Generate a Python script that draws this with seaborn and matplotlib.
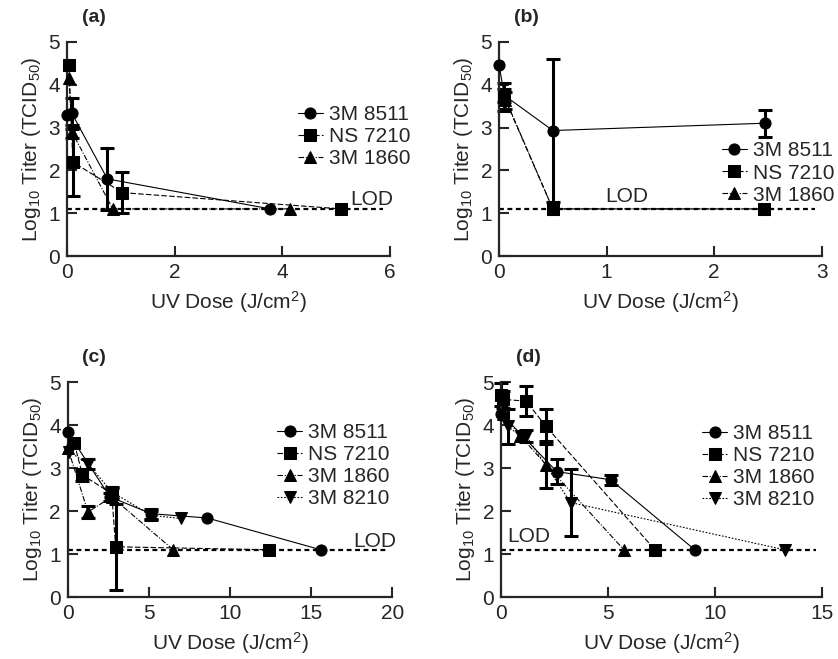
import pandas as pd
import matplotlib
matplotlib.use("Agg")
import matplotlib.pyplot as plt
import seaborn as sns

# ---- data (dose J/cm2, log10 titer, +/- error) ----
a_series = ["3M 8511"] * 4 + ["NS 7210"] * 4 + ["3M 1860"] * 4
a_dose = [0.0, 0.09, 0.75, 3.78, 0.03, 0.11, 1.03, 5.10, 0.04, 0.09, 0.85, 4.15]
a_titer = [3.29, 3.33, 1.80, 1.10, 4.46, 2.19, 1.48, 1.10, 4.15, 2.90, 1.10, 1.10]
a_err = [0, 0.37, 0.73, 0, 0, 0.80, 0.47, 0, 0, 0.15, 0, 0]

b_series = ["3M 8511"] * 4 + ["NS 7210"] * 3 + ["3M 1860"] * 3
b_dose = [0.0, 0.05, 0.50, 2.47, 0.05, 0.50, 2.46, 0.06, 0.50, 2.46]
b_titer = [4.46, 3.75, 2.93, 3.10, 3.72, 1.10, 1.10, 3.64, 1.10, 1.10]
b_err = [0, 0.15, 1.68, 0.32, 0.33, 0, 0, 0.2, 0, 0]

c_series = ["3M 8511"] * 5 + ["NS 7210"] * 5 + ["3M 1860"] * 4 + ["3M 8210"] * 5
c_dose = [0.0, 2.6, 5.15, 8.6, 15.6,
          0.4, 0.9, 2.7, 2.95, 12.4,
          0.0, 1.24, 2.7, 6.5,
          0.1, 1.24, 2.7, 5.15, 6.95]
c_titer = [3.83, 2.33, 1.94, 1.84, 1.10,
           3.58, 2.84, 2.41, 1.17, 1.10,
           3.46, 1.98, 2.33, 1.10,
           3.38, 3.10, 2.45, 1.90, 1.83]
c_err = [0, 0.1, 0.12, 0, 0,
         0, 0.15, 0.12, 1.0, 0,
         0, 0.15, 0, 0,
         0, 0.12, 0.12, 0.1, 0]

d_series = ["3M 8511"] * 4 + ["NS 7210"] * 5 + ["3M 1860"] * 4 + ["3M 8210"] * 5
d_dose = [0.0, 2.6, 5.12, 9.05,
          0.0, 0.1, 1.17, 2.1, 7.19,
          0.1, 0.9, 2.1, 5.74,
          0.3, 0.92, 1.17, 3.25, 13.25]
d_titer = [4.27, 2.92, 2.73, 1.10,
           4.71, 4.60, 4.56, 3.97, 1.10,
           4.25, 3.75, 3.08, 1.10,
           3.97, 3.75, 3.75, 2.20, 1.10]
d_err = [0, 0.3, 0.12, 0,
         0.27, 0.2, 0.35, 0.4, 0,
         0, 0, 0.55, 0,
         0.4, 0, 0.14, 0.78, 0]

lod = 1.1
series_order = ["3M 8511", "NS 7210", "3M 1860", "3M 8210"]
markers = {"3M 8511": "o", "NS 7210": "s", "3M 1860": "^", "3M 8210": "v"}
dashes = {"3M 8511": "", "NS 7210": (5, 2), "3M 1860": (5, 1.5, 1, 1.5), "3M 8210": (1.5, 1.5)}

sns.set_style("ticks")
plt.rcParams["font.family"] = ["Liberation Sans", "DejaVu Sans"]
plt.rcParams["mathtext.fontset"] = "custom"
plt.rcParams["mathtext.rm"] = "Liberation Sans"
plt.rcParams["mathtext.it"] = "Liberation Sans:italic"

fs = 15
fig = plt.figure(figsize=(8.38, 6.59), dpi=100)
rects = [[0.080, 0.6115, 0.385, 0.325], [0.5955, 0.6115, 0.385, 0.325],
         [0.081, 0.094, 0.387, 0.326], [0.598, 0.094, 0.383, 0.326]]

panels = [
    ("(a)", a_series, a_dose, a_titer, a_err, 6, [0, 2, 4, 6], (5.67, 1.33), (0.715, 0.705)),
    ("(b)", b_series, b_dose, b_titer, b_err, 3, [0, 1, 2, 3], (1.19, 1.39), (0.69, 0.535)),
    ("(c)", c_series, c_dose, c_titer, c_err, 20, [0, 5, 10, 15, 20], (18.9, 1.30), (0.645, 0.81)),
    ("(d)", d_series, d_dose, d_titer, d_err, 15, [0, 5, 10, 15], (1.28, 1.40), (0.626, 0.805)),
]

for rect, (tag, ser, dose, titer, err, xmax, xticks, lodpos, legpos) in zip(rects, panels):
    ax = fig.add_axes(rect)
    df = pd.DataFrame({"series": ser, "dose": dose, "titer": titer, "err": err})
    order = [s for s in series_order if s in ser]
    ax.axhline(lod, xmax=0.98, color="k", lw=1.6, ls=(0, (2.2, 1.6)), zorder=1)
    sns.lineplot(data=df, x="dose", y="titer", style="series", style_order=order,
                 markers=markers, dashes=dashes, color="k", sort=False,
                 estimator=None, lw=0.8, markersize=8, markeredgecolor="k",
                 clip_on=False, zorder=3, ax=ax)
    eb = df[df["err"] > 0]
    ax.errorbar(eb["dose"], eb["titer"], yerr=eb["err"], fmt="none", ecolor="k",
                elinewidth=2.2, capsize=5, capthick=2.2, zorder=2, clip_on=False)
    ax.text(lodpos[0], lodpos[1], "LOD", ha="center", va="center", fontsize=fs)
    ax.text(0.045, 1.115, tag, transform=ax.transAxes, fontsize=14,
            fontweight="bold", va="center")
    ax.set_xlim(0, xmax)
    ax.set_ylim(0, 5)
    ax.set_xticks(xticks)
    ax.set_yticks([0, 1, 2, 3, 4, 5])
    ax.tick_params(direction="in", length=7, width=1.5, labelsize=fs, pad=5)
    for sp in ["left", "bottom"]:
        ax.spines[sp].set_linewidth(1.6)
    sns.despine(ax=ax)
    ax.set_xlabel("UV Dose (J/cm$^2$)", fontsize=fs, labelpad=5)
    ax.set_ylabel("Log$_{10}$ Titer (TCID$_{50}$)", fontsize=fs, labelpad=4)
    h, l = ax.get_legend_handles_labels()
    ax.legend(h, l, loc="upper left", bbox_to_anchor=legpos, frameon=False,
              fontsize=fs, handlelength=1.2, handletextpad=0.3,
              labelspacing=0.15, borderpad=0, borderaxespad=0)

fig.savefig("out.png", dpi=100)
